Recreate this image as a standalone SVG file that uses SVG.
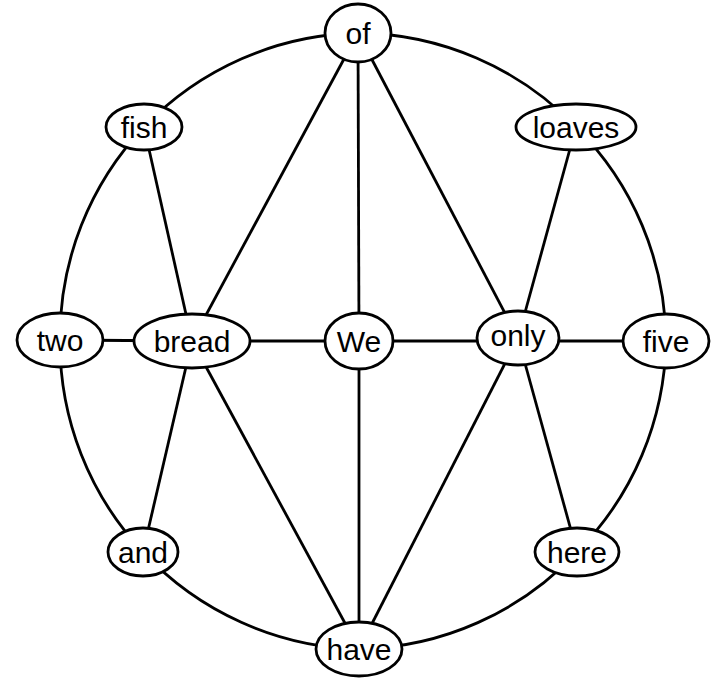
<svg xmlns="http://www.w3.org/2000/svg" width="717" height="678" viewBox="0 0 717 678">
<style>
.e{stroke:#000;stroke-width:2.8;fill:none}
.n ellipse{fill:#fff;stroke:#000;stroke-width:2.8}
.n text{font-family:"Liberation Sans",Arial,sans-serif;font-size:30px;text-anchor:middle;fill:#000}
</style>
<rect width="717" height="678" fill="#fff"/>
<g id="connectors">
<path class="e" d="M358,33 A306,306 0 0 1 576,127"/>
<path class="e" d="M576,127 A306,306 0 0 1 666,341"/>
<path class="e" d="M666,341 A306,306 0 0 1 577,552"/>
<path class="e" d="M577,552 A306,306 0 0 1 359,649"/>
<path class="e" d="M359,649 A306,306 0 0 1 143,552"/>
<path class="e" d="M143,552 A306,306 0 0 1 60,340"/>
<path class="e" d="M60,340 A306,306 0 0 1 144,127"/>
<path class="e" d="M144,127 A306,306 0 0 1 358,33"/>
<line class="e" x1="358" y1="33" x2="359" y2="341"/>
<line class="e" x1="358" y1="33" x2="192" y2="341"/>
<line class="e" x1="358" y1="33" x2="518" y2="338"/>
<line class="e" x1="144" y1="127" x2="192" y2="341"/>
<line class="e" x1="576" y1="127" x2="518" y2="338"/>
<line class="e" x1="60" y1="340" x2="192" y2="341"/>
<line class="e" x1="192" y1="341" x2="359" y2="341"/>
<line class="e" x1="359" y1="341" x2="518" y2="341"/>
<line class="e" x1="518" y1="341" x2="666" y2="341"/>
<line class="e" x1="192" y1="341" x2="143" y2="552"/>
<line class="e" x1="192" y1="341" x2="359" y2="649"/>
<line class="e" x1="359" y1="341" x2="359" y2="649"/>
<line class="e" x1="518" y1="338" x2="359" y2="649"/>
<line class="e" x1="518" y1="338" x2="577" y2="552"/>
</g>
<g id="of" class="n"><ellipse cx="358" cy="33" rx="33" ry="29"/><text x="358" y="44">of</text></g>
<g id="fish" class="n"><ellipse cx="144" cy="127" rx="38" ry="23"/><text x="144" y="138">fish</text></g>
<g id="loaves" class="n"><ellipse cx="576" cy="127" rx="60" ry="23"/><text x="576" y="138">loaves</text></g>
<g id="two" class="n"><ellipse cx="60" cy="340" rx="43" ry="27"/><text x="60" y="351">two</text></g>
<g id="bread" class="n"><ellipse cx="192" cy="341" rx="58" ry="27"/><text x="192" y="352">bread</text></g>
<g id="We" class="n"><ellipse cx="359" cy="341" rx="34" ry="28"/><text x="359" y="352">We</text></g>
<g id="only" class="n"><ellipse cx="518" cy="338" rx="41" ry="27"/><text x="518" y="346">only</text></g>
<g id="five" class="n"><ellipse cx="666" cy="341" rx="43" ry="27"/><text x="666" y="352">five</text></g>
<g id="and" class="n"><ellipse cx="143" cy="552" rx="35" ry="24"/><text x="143" y="563">and</text></g>
<g id="here" class="n"><ellipse cx="577" cy="552" rx="42" ry="24"/><text x="577" y="563">here</text></g>
<g id="have" class="n"><ellipse cx="359" cy="649" rx="43" ry="27"/><text x="359" y="660">have</text></g>
</svg>
